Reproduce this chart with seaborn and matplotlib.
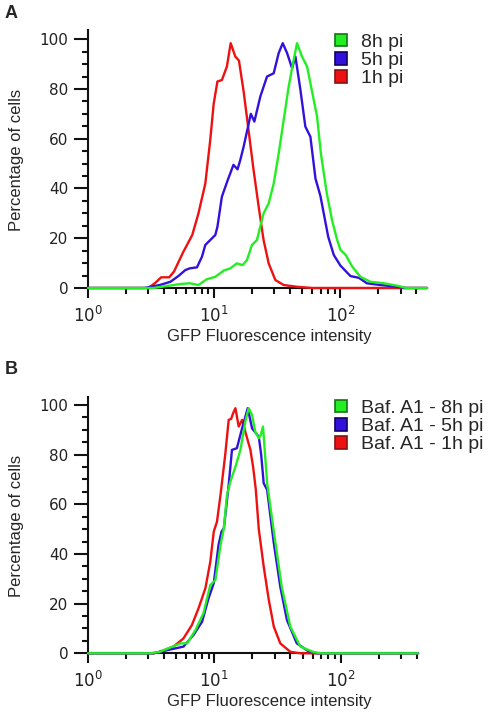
import numpy as np
import pandas as pd
import seaborn as sns
import matplotlib.pyplot as plt
from matplotlib.patches import Patch
from matplotlib.ticker import LogLocator, FixedLocator, MultipleLocator, NullFormatter

# -------------------------------
# Data (x = GFP intensity, y = % of cells)
# -------------------------------
a_1h_x = [1, 3.0, 3.4, 3.8, 4.4, 4.8, 5.7, 6.7, 7.5, 8.5, 9.3, 9.9, 10.6, 11.5, 12.6, 13.5,
          14.7, 15.7, 17.1, 18.7, 20.5, 22.5, 24.6, 27, 30.5, 35.5, 45, 60, 485]
a_1h_y = [0, 0, 2, 4.3, 4.3, 6.6, 14.6, 21.3, 30, 42, 59.5, 74, 83, 83.6, 89, 98.4,
          93, 91.4, 79, 63.5, 47.4, 32.7, 19.3, 9.9, 3.2, 1.2, 0.5, 0, 0]

a_5h_x = [1, 2.8, 3.7, 4.5, 5.2, 5.9, 6.4, 7.3, 8.0, 8.5, 10.2, 10.6, 11.5, 12.8, 14.2, 15.3,
          16.1, 17.1, 19.5, 20.8, 23.2, 26.2, 29.6, 32.4, 34.9, 37.8, 41.4, 44, 48.2, 52.7,
          57.8, 63.4, 69.4, 80, 88.5, 100, 120, 140, 162, 200, 282, 320, 485]
a_5h_y = [0, 0, 1.2, 2.5, 4.8, 7.2, 7.9, 8.3, 12.6, 17.3, 21.3, 24.6, 36.7, 43.4, 49.5, 47.7,
          51.5, 56.8, 70, 66.9, 77, 85, 86.3, 94.4, 98.4, 94.4, 88.3, 93, 79.6, 64.9,
          60.8, 44, 37, 20.6, 13.3, 9, 4.8, 4.1, 1.9, 1.3, 0.5, 0, 0]

a_8h_x = [1, 3.3, 5.4, 6.4, 7.5, 8.7, 10.2, 11.9, 13.4, 15.1, 16.8, 18.2, 19.9, 21.8, 24.6,
          27, 29.6, 32.4, 35.5, 38.9, 42.6, 45.3, 49.6, 54.4, 57.8, 65.3, 70, 78, 86, 94,
          100, 110, 124, 144, 173, 221, 290, 330, 485]
a_8h_y = [0, 0, 1.6, 1.9, 1.2, 3.5, 4.5, 7, 7.9, 9.9, 9.2, 11.3, 17.3, 19.3, 30,
          34, 42, 54, 67.5, 81, 91.7, 98.4, 93, 89, 82.3, 68.9, 54, 38, 27, 19.5,
          15.3, 13.3, 8.6, 4.5, 2.5, 1.9, 0.8, 0, 0]

b_1h_x = [1, 3.3, 3.7, 4.75, 5.7, 6.65, 7.5, 8.5, 9.3, 9.9, 10.5, 11.2, 12.2, 13.0, 13.6, 14.1,
          14.7, 15.6, 16.6, 17.6, 19.3, 20.3, 21.3, 22.5, 24.6, 27, 29.6, 33.3, 40, 48, 410]
b_1h_y = [0, 0, 0.6, 2.7, 6, 11.4, 18.1, 26.2, 36.9, 49, 53, 63.8, 79.9, 94, 94.4, 96.7,
          98.7, 91.3, 94, 89.2, 82, 75, 66, 50, 35, 21.5, 10.7, 4, 0.6, 0, 0]

b_5h_x = [1, 3.3, 3.7, 5.7, 6.85, 8.0, 9.0, 9.9, 10.8, 11.4, 11.9, 13.0, 13.8, 15.1, 16.6, 18.4,
          19.9, 22.5, 23.5, 24.6, 26.2, 29.6, 33.3, 37.6, 45, 55, 65, 410]
b_5h_y = [0, 0, 0.6, 2.7, 7.4, 12.7, 22.1, 28.2, 43.6, 49, 50.3, 67.8, 81.9, 82.6, 90.6, 98.7,
          90.6, 87.2, 80, 68.5, 65.8, 44.3, 26.8, 13.4, 4, 1, 0, 0]

b_8h_x = [1, 3.1, 3.7, 5.4, 6.1, 7.1, 8.2, 9.3, 10.2, 11.2, 11.9, 12.6, 13.4, 14.7, 16.1, 17.6,
          18.7, 19.9, 21.1, 22.5, 23.3, 24.3, 26.2, 30.5, 34.2, 40, 48, 61, 70, 410]
b_8h_y = [0, 0, 0.6, 4, 4, 9.4, 16.1, 27.5, 29.5, 43.6, 50.3, 63.8, 69.1, 75.1, 81.9, 93.3,
          98.7, 96, 89.2, 86.6, 87.9, 91.3, 68.5, 44.3, 26.8, 10.7, 2.7, 0.5, 0, 0]

a_labels = ["8h pi", "5h pi", "1h pi"]
b_labels = ["Baf. A1 - 8h pi", "Baf. A1 - 5h pi", "Baf. A1 - 1h pi"]

RED = "#ee1111"
BLUE = "#3311dd"
GREEN = "#22ee22"
EDGES = ["#117711", "#110066", "#881111"]

sns.set_style("ticks")
plt.rcParams["font.family"] = ["Liberation Sans", "DejaVu Sans"]

fig = plt.figure(figsize=(4.98, 7.16), dpi=100)
ax_a = fig.add_axes([88 / 498, 1 - 288 / 716, 339 / 498, 258 / 716])
ax_b = fig.add_axes([88 / 498, 1 - 653.3 / 716, 330 / 498, 256.3 / 716])


def draw_panel(ax, series, xmax, ymax, labels, leg_y):
    """Draw the three histogram outlines and style the axes."""
    for (xs, ys), color in series:
        sns.lineplot(x=xs, y=ys, ax=ax, color=color, linewidth=1.7,
                     estimator=None, sort=False, zorder=4, clip_on=False)

    ax.set_xscale("log")
    ax.set_xlim(1, xmax)
    ax.set_ylim(0, ymax)

    ax.xaxis.set_major_locator(FixedLocator([1, 10, 100]))
    ax.set_xticklabels([r"$10^{0}$", r"$10^{1}$", r"$10^{2}$"])
    ax.xaxis.set_minor_locator(LogLocator(base=10, subs=np.arange(2, 10), numticks=20))
    ax.xaxis.set_minor_formatter(NullFormatter())
    ax.yaxis.set_major_locator(MultipleLocator(20))
    ax.yaxis.set_minor_locator(MultipleLocator(5))

    for s in ["top", "right"]:
        ax.spines[s].set_visible(False)
    for s in ["left", "bottom"]:
        ax.spines[s].set_linewidth(1.5)
        ax.spines[s].set_color("#111111")

    ax.tick_params(axis="both", which="major", length=10, width=1.5, color="#111111",
                   labelcolor="#222222", pad=4)
    ax.tick_params(axis="y", which="major", labelsize=11)
    ax.tick_params(axis="x", which="major", labelsize=12, length=7, pad=6)
    ax.tick_params(axis="both", which="minor", length=4, width=1.5, color="#111111")
    for lab in ax.get_yticklabels() + ax.get_xticklabels():
        lab.set_family("DejaVu Sans")

    ax.set_xlabel("GFP Fluorescence intensity", fontsize=12)
    ax.set_ylabel("Percentage of cells", fontsize=12)
    ax.xaxis.set_label_coords((269.5 - 88) / (ax.get_position().width * 498), -0.16)
    ax.yaxis.set_label_coords(-64 / (ax.get_position().width * 498), 0.495)

    # legend: green, blue, red (top to bottom)
    handles = [Patch(facecolor=c, edgecolor=e, linewidth=1.2)
               for c, e in zip([GREEN, BLUE, RED], EDGES)]
    fig.legend(handles, labels, loc="upper left", bbox_to_anchor=(335 / 498, leg_y),
               frameon=False, fontsize=14, handlelength=0.6, handleheight=0.6,
               handletextpad=0.75, labelspacing=0.06, borderpad=0, borderaxespad=0)


draw_panel(ax_a, [((a_1h_x, a_1h_y), RED), ((a_5h_x, a_5h_y), BLUE), ((a_8h_x, a_8h_y), GREEN)],
           485, 103.7, a_labels, 1 - 34 / 716)
draw_panel(ax_b, [((b_1h_x, b_1h_y), RED), ((b_5h_x, b_5h_y), BLUE), ((b_8h_x, b_8h_y), GREEN)],
           410, 103.2, b_labels, 1 - 400 / 716)

fig.text(11 / 498, 1 - 13 / 716, "A", fontsize=13, fontweight="bold", ha="center", va="center")
fig.text(11 / 498, 1 - 370 / 716, "B", fontsize=13, fontweight="bold", ha="center", va="center")

fig.savefig("out.png", dpi=100)
